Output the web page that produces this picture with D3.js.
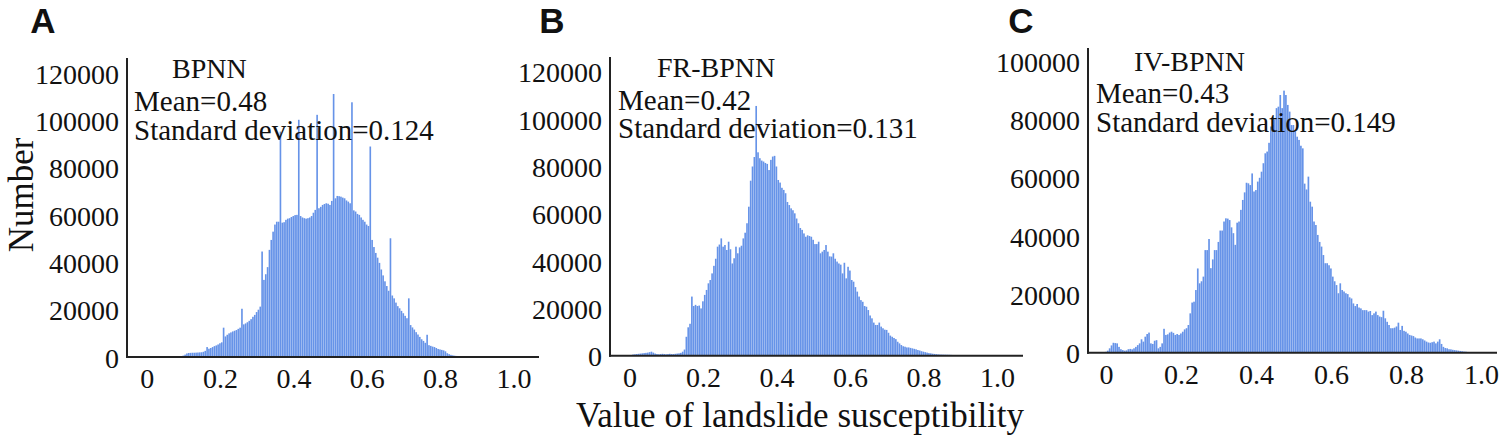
<!DOCTYPE html>
<html>
<head>
<meta charset="utf-8">
<script src="https://cdn.jsdelivr.net/npm/d3@7"></script>
<style>
  html, body { margin: 0; padding: 0; background: #fff; }
  svg { display: block; }
</style>
</head>
<body>
<svg id="chart" width="1505" height="439"></svg>
<script>
// ---------------- DATA ----------------
const binWidth = 0.005;
const xTickValues = [0, 0.2, 0.4, 0.6, 0.8, 1.0];
const xTickLabels = ["0", "0.2", "0.4", "0.6", "0.8", "1.0"];
const yTicksAB = [0, 20000, 40000, 60000, 80000, 100000, 120000];
const yTicksC = [0, 20000, 40000, 60000, 80000, 100000];
const panelLetters = ["A", "B", "C"];
const modelNames = ["BPNN", "FR-BPNN", "IV-BPNN"];
const meanValues = ["0.48", "0.42", "0.43"];
const stdValues = ["0.124", "0.131", "0.149"];
const firstBinCenter = [0.05, 0.005, 0.0];

// Panel A (BPNN) counts, bin centers from 0.050 step 0.005
const countsA = [
  30,40,50,60,80,100,130,170,220,300,
  600,1000,1500,1700,1750,1800,1800,1850,1900,1950,
  2000,2200,2600,4200,3500,3800,4200,4600,4900,5300,
  5800,6200,12400,8700,9400,10000,10400,10800,11100,11400,
  11900,12400,20400,13800,14200,14700,15300,16000,17000,17800,
  19000,20000,21300,44600,32600,35000,38000,45300,49500,53000,
  56000,57200,57200,95300,56800,57000,58000,58500,58700,59200,
  59600,60000,60100,100300,59600,59000,58700,58500,58700,59000,
  59600,61000,62200,102400,62900,63500,64300,64700,65000,64800,
  64300,66000,111200,67100,68100,68000,67800,67400,67100,66200,
  65700,65000,107700,62000,61500,60500,60100,59000,58000,57200,
  56000,55400,89000,49500,46500,44000,42000,39800,37000,34500,
  32000,30000,28000,50200,26000,24800,23000,21500,20600,19500,
  18500,17400,16400,24800,13500,12500,11600,10500,9500,8500,
  7500,6800,6000,9400,5000,4700,4400,4200,3800,3400,
  3200,3000,2800,2400,1600,1200,900,700,550,450,
  400,350,300,280,250,200,150,100,60
];

// Panel B (FR-BPNN) counts, bin centers from 0.005 step 0.005
const countsB = [
  200,500,600,700,800,900,1000,1100,1200,1300,
  1500,1700,1300,900,700,600,700,800,700,600,
  700,800,700,700,800,900,1000,1200,1700,2600,
  8000,12000,13500,25000,21000,21500,21000,21200,20000,23000,
  25700,27800,30600,32000,34800,38000,41000,46100,47000,49600,
  46100,46800,44700,48200,45000,39000,41200,46100,43300,45800,
  46500,49600,52000,56000,63000,74000,80000,84000,105600,86000,
  83500,82500,82100,81500,81100,78500,82800,84200,84500,80000,
  74300,73200,71000,70100,68700,65000,63700,62300,61500,60200,
  58000,56000,54000,53200,51700,50300,50900,50600,50300,49000,
  47200,47200,48200,43300,44000,44700,46800,44000,42000,41900,
  43300,41000,39800,39000,38500,34800,39300,32700,37600,36000,
  32000,31300,29000,27100,25000,23500,22800,21000,20700,19300,
  17000,15800,14000,13000,13000,14000,12300,11600,11000,10900,
  9700,8500,8000,7500,7000,5900,5200,4500,4000,3800,
  3500,3500,3300,3100,2900,2700,2400,2200,1900,1700,
  1500,1300,1100,1000,850,750,650,560,500,470,
  440,420,400,380,350,300,260,220,180,150,
  130,110,90,70,50
];

// Panel C (IV-BPNN) counts, bin centers from 0.000 step 0.005
const countsC = [
  300,700,1500,2500,3400,3300,3200,2000,1200,900,
  700,800,1200,1300,1150,1500,2000,2600,3200,4600,
  3800,5500,6400,6900,3200,3000,4100,4300,1500,2000,
  3200,8200,6100,6300,6900,7200,6800,6100,6400,6100,
  6600,7200,8000,8400,9500,13500,17200,17500,21500,28900,
  23800,24500,26100,35200,35200,39000,29000,32000,35200,35200,
  38000,41900,41900,45000,46100,46000,45500,43000,41000,37000,
  44600,45000,49000,52400,55000,58300,58100,57500,61500,55300,
  55800,58700,60000,62100,65000,68400,69000,72000,77600,78100,
  80000,83900,84400,88400,83900,89900,88400,85000,82700,78100,
  78100,76000,74100,73000,71000,70100,58000,56000,60400,51800,
  50100,45000,43800,40400,38000,36400,33500,30700,30700,30000,
  28900,26100,24500,23200,20400,23800,21500,21000,20400,20100,
  19000,18600,16900,16000,16700,15500,15200,14600,14600,14600,
  14100,14300,12900,13500,14100,12900,12400,12200,14400,11800,
  10600,9500,8400,8400,8600,9000,10300,7800,9200,7500,
  7200,6600,6100,5900,5700,5200,4900,4900,4900,4600,
  4200,3800,3500,3400,3600,3800,3200,3800,4600,3000,
  2000,1600,1500,1200,1150,1000,900,800,700,600,
  500,400,350,250,150,100
];

const allCounts = [countsA, countsB, countsC];
const allYTicks = [yTicksAB, yTicksAB, yTicksC];

// ---------------- LAYOUT ----------------
const layout = [
  { axisX: 127, top: 58, base: 357, xEnd: 539, x0: 146.7, ppu: 366.7, yTop: 120000, yTopPx: 73.2,
    letterX: 43, titleX: 172, textX: 134, titleY: 78, meanY: 111, stdY: 140 },
  { axisX: 610, top: 57, base: 355.7, xEnd: 1023, x0: 629.5, ppu: 367.5, yTop: 120000, yTopPx: 71.9,
    letterX: 552, titleX: 657, textX: 618, titleY: 77, meanY: 110, stdY: 138 },
  { axisX: 1088, top: 48, base: 352.7, xEnd: 1497, x0: 1106, ppu: 375, yTop: 100000, yTopPx: 61.2,
    letterX: 1021, titleX: 1134, textX: 1096, titleY: 71, meanY: 103, stdY: 132 }
];

const serif = "'Liberation Serif', 'Times New Roman', Times, serif";
const svg = d3.select("#chart");

layout.forEach((L, p) => {
  const g = svg.append("g");
  const x = d3.scaleLinear().domain([0, 1]).range([L.x0, L.x0 + L.ppu]);
  const y = d3.scaleLinear().domain([0, L.yTop]).range([L.base, L.yTopPx]);
  const counts = allCounts[p];
  const start = firstBinCenter[p];
  const bins = counts.map((c, i) => ({ c0: start + i * binWidth, v: c }));

  // bars
  g.append("g").selectAll("rect").data(bins).join("rect")
    .attr("x", d => x(d.c0 - binWidth / 2))
    .attr("width", d => Math.max(0.5, x(d.c0 + binWidth / 2) - x(d.c0 - binWidth / 2) - 0.2))
    .attr("y", d => y(d.v))
    .attr("height", d => L.base - y(d.v))
    .attr("fill", "#6693e8");

  // axis lines
  g.append("line").attr("x1", L.axisX).attr("x2", L.axisX).attr("y1", L.top).attr("y2", L.base + 1)
    .attr("stroke", "#222").attr("stroke-width", 2);
  g.append("line").attr("x1", L.axisX - 1).attr("x2", L.xEnd).attr("y1", L.base).attr("y2", L.base)
    .attr("stroke", "#222").attr("stroke-width", 2);

  // y axis labels
  const ya = g.append("g").attr("transform", `translate(${L.axisX},0)`)
    .call(d3.axisLeft(y).tickValues(allYTicks[p]).tickSize(0).tickPadding(8).tickFormat(d3.format("d")));
  ya.select(".domain").remove();
  ya.attr("font-family", serif).attr("font-size", 28);
  ya.selectAll("text").attr("fill", "#111").attr("dy", "0.36em");

  // x axis labels
  const xa = g.append("g").attr("transform", `translate(0,${L.base})`)
    .call(d3.axisBottom(x).tickValues(xTickValues).tickSize(0).tickPadding(11)
      .tickFormat((d, i) => xTickLabels[i]));
  xa.select(".domain").remove();
  xa.attr("font-family", serif).attr("font-size", 28);
  xa.selectAll("text").attr("fill", "#111");

  // panel letter
  g.append("text").attr("x", L.letterX).attr("y", 33).attr("text-anchor", "middle")
    .attr("font-family", "'Liberation Sans', Arial, sans-serif").attr("font-weight", "bold")
    .attr("font-size", 35).attr("fill", "#111").text(panelLetters[p]);

  // annotations
  g.append("text").attr("x", L.titleX).attr("y", L.titleY)
    .attr("font-family", serif).attr("font-size", 28).attr("fill", "#111").text(modelNames[p]);
  g.append("text").attr("x", L.textX).attr("y", L.meanY)
    .attr("font-family", serif).attr("font-size", 29).attr("fill", "#111").text("Mean=" + meanValues[p]);
  g.append("text").attr("x", L.textX).attr("y", L.stdY)
    .attr("font-family", serif).attr("font-size", 29).attr("fill", "#111").text("Standard deviation=" + stdValues[p]);
});

// shared axis titles
svg.append("text").attr("transform", "translate(33,195) rotate(-90)").attr("text-anchor", "middle")
  .attr("font-family", serif).attr("font-size", 35).attr("fill", "#111").text("Number");
svg.append("text").attr("x", 800).attr("y", 427).attr("text-anchor", "middle")
  .attr("font-family", serif).attr("font-size", 35).attr("fill", "#111").text("Value of landslide susceptibility");
</script>
</body>
</html>
